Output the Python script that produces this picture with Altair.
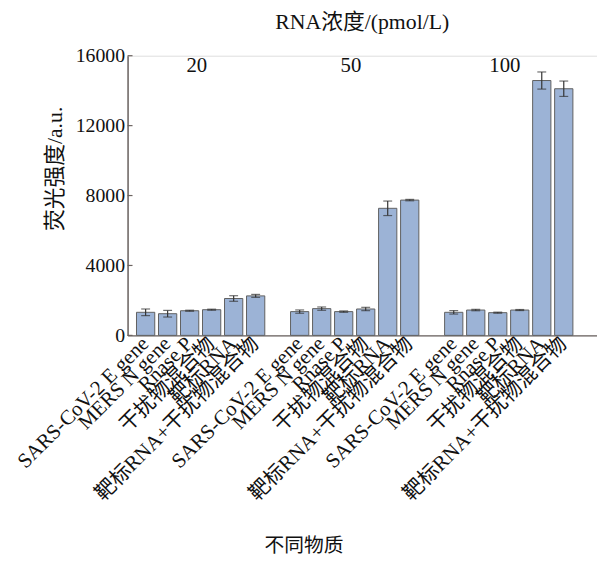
import altair as alt
import pandas as pd

groups = ["20", "50", "100"]
substances = ["SARS-CoV-2 E gene", "MERS N gene", "Rnase P", "干扰物混合物", "靶标RNA", "靶标RNA+干扰物混合物"]
means = {
    "20": [1320, 1240, 1410, 1470, 2110, 2260],
    "50": [1360, 1530, 1360, 1510, 7270, 7740],
    "100": [1320, 1450, 1300, 1450, 14580, 14110],
}
errors = {
    "20": [190, 190, 30, 30, 160, 85],
    "50": [95, 95, 40, 95, 415, 40],
    "100": [100, 40, 30, 30, 490, 440],
}
y_ticks = [0, 4000, 8000, 12000, 16000]
group_label_y = 15400

rows = []
domain = []
for gi, g in enumerate(groups):
    for s, m, e in zip(substances, means[g], errors[g]):
        key = f"{g}|{s}"
        domain.append(key)
        rows.append({"key": key, "group": g, "sub": s, "mean": m, "lo": m - e, "hi": m + e})
    if gi < len(groups) - 1:
        domain.append(f"gap{gi}|")
df = pd.DataFrame(rows)

lbl_df = pd.DataFrame([{"key": f"{g}|{substances[3]}", "label": g, "y": group_label_y} for g in groups])
tick_df = pd.DataFrame({"t": y_ticks})

SERIF = "Liberation Serif, Noto Sans CJK SC"

xscale = alt.Scale(domain=domain, paddingInner=0.17, paddingOuter=0.75, align=0.27)
yscale = alt.Scale(domain=[0, 16000], nice=False)
x = alt.X("key:N", scale=xscale, sort=domain,
          axis=alt.Axis(title="不同物质", labelAngle=-45, labelAlign="right", labelBaseline="middle",
                        labelExpr="split(datum.value, '|')[1]", ticks=False, labelPadding=5,
                        labelFont=SERIF, labelFontSize=21, labelColor="#111", labelLimit=400,
                        titleFont=SERIF, titleFontSize=20, titleFontWeight="normal", titleColor="#111",
                        titleX=178, titleY=213, titleAlign="center", titleBaseline="middle",
                        domainColor="#6b6360", domainWidth=1.5, labelOverlap=False))
y = alt.Y("mean:Q", scale=yscale,
          axis=alt.Axis(title="荧光强度/a.u.", values=y_ticks, grid=False, ticks=False, format="d",
                        domainColor="#6b6360", domainWidth=1.5,
                        labelFont=SERIF, labelFontSize=20, labelColor="#111", labelPadding=3,
                        titleFont=SERIF, titleFontSize=22, titleFontWeight="normal", titleColor="#111",
                        titleX=-74, titleY=114, titleAngle=270, titleAlign="center", titleBaseline="middle"))

xs = alt.X("key:N", scale=xscale, sort=domain)
bars = alt.Chart(df).mark_bar(color="#9cb3d6", stroke="#5f5f5f", strokeWidth=1).encode(x=x, y=y)
rules = alt.Chart(df).mark_rule(color="#333", strokeWidth=1.2).encode(x=xs, y="lo:Q", y2="hi:Q")
caps_lo = alt.Chart(df).mark_tick(color="#333", thickness=1.2, size=9).encode(x=xs, y="lo:Q")
caps_hi = alt.Chart(df).mark_tick(color="#333", thickness=1.2, size=9).encode(x=xs, y="hi:Q")
labels = alt.Chart(lbl_df).mark_text(font=SERIF, fontSize=21, color="#111", dx=-15, baseline="middle").encode(
    x=xs, y=alt.Y("y:Q", scale=yscale), text="label:N")
inticks = alt.Chart(tick_df).mark_rule(color="#6b6360", strokeWidth=1.2).encode(
    y=alt.Y("t:Q", scale=yscale), x=alt.value(0), x2=alt.value(5))

chart = alt.layer(bars, rules, caps_lo, caps_hi, labels, inticks).properties(
    width=475, height=283,
    title=alt.TitleParams("RNA浓度/(pmol/L)", font=SERIF, fontSize=22, fontWeight="normal", color="#111",
                          anchor="middle", offset=12),
    padding={"left": 5, "top": 0, "right": 0, "bottom": 0},
).configure_view(stroke=None).configure(background="white")

chart.save("out.html", embed_options={"renderer": "svg", "actions": False})
